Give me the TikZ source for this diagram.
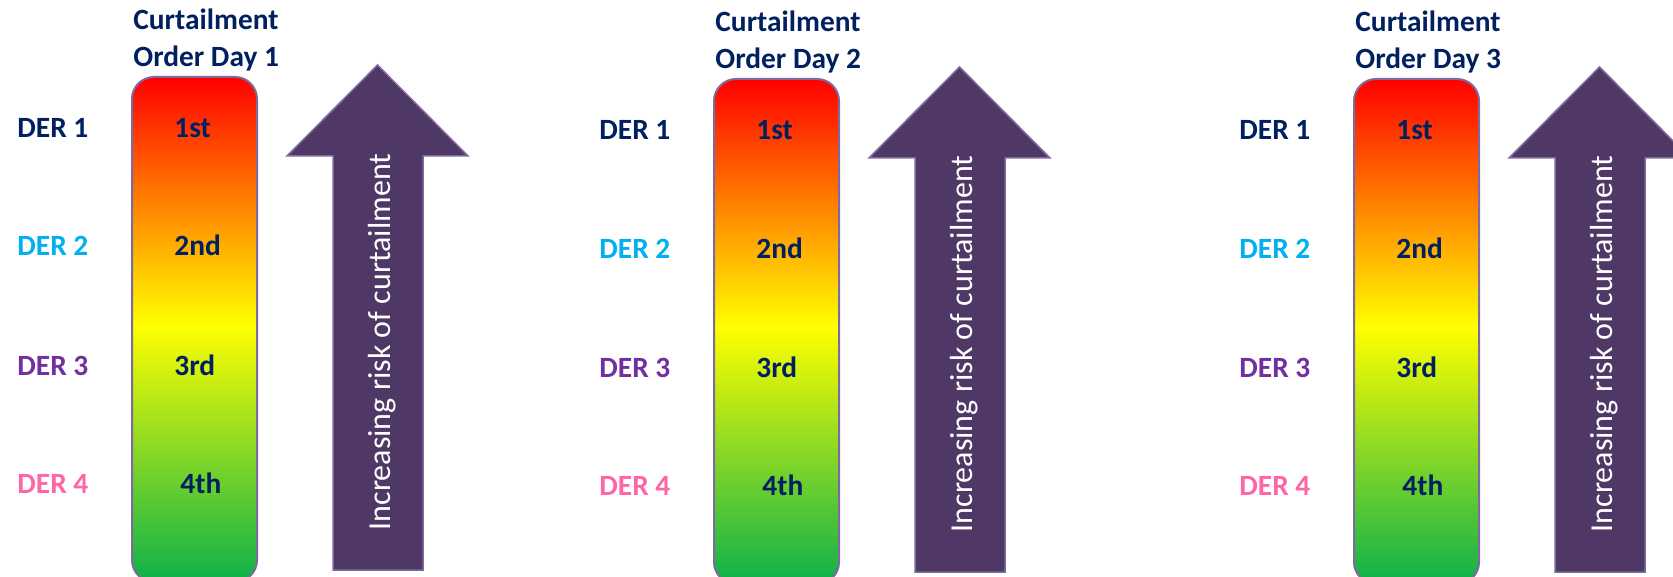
\documentclass[tikz,border=0pt]{standalone}
\usepackage{fontspec}
\setmainfont{Carlito}
\definecolor{navy}{HTML}{002060}
\definecolor{dertwo}{HTML}{00B0F0}
\definecolor{derthree}{HTML}{7030A0}
\definecolor{derfour}{HTML}{FF66A8}
\definecolor{arrowfill}{HTML}{4F3866}
\definecolor{edgepurple}{HTML}{7E6A9E}
\definecolor{barRed}{HTML}{FF0000}
\definecolor{barYellow}{HTML}{FFFF00}
\definecolor{barGreen}{HTML}{0DB04B}
\pgfdeclareverticalshading{riskbar}{100bp}{color(0bp)=(barGreen); color(25bp)=(barGreen); color(50.5bp)=(barYellow); color(75bp)=(barRed); color(100bp)=(barRed)}
\begin{document}
\begin{tikzpicture}[x=0.5pt,y=0.5pt,
  lbl/.style={font=\bfseries\fontsize{14.7}{16}\selectfont, anchor=base west, inner sep=0pt},
  riskbox/.style={shading=riskbar, draw=edgepurple, line width=1pt, rounded corners=11pt},
  riskarrow/.style={fill=arrowfill, draw=edgepurple, line width=0.75pt},
  risktext/.style={rotate=90, anchor=base, inner sep=0pt, text=white, font=\fontsize{16}{18}\selectfont}]
\useasboundingbox (0,-577) rectangle (1673,0);
\foreach \d/\dx/\dy in {1/0/0, 2/582/2, 3/1222/2} {
  \begin{scope}[shift={(\dx,-\dy)}]
    \shade[riskbox] (132,-77) rectangle (257,-582);
    \filldraw[riskarrow] (333,-570) -- (333,-156) -- (287,-156) -- (377.5,-65) -- (468,-156) -- (423,-156) -- (423,-570) -- cycle;
    \node[risktext] (risk-\d) at (390,-342) {Increasing risk of curtailment};
    \node[lbl, text=navy] (cur-\d) at (133,-30) {Curtailment};
    \node[lbl, text=navy] (ord-\d) at (133,-67) {Order Day \d};
    \node[lbl, text=navy] (der1-\d) at (17,-138) {DER 1};
    \node[lbl, text=dertwo] (der2-\d) at (17,-256) {DER 2};
    \node[lbl, text=derthree] (der3-\d) at (17,-375) {DER 3};
    \node[lbl, text=derfour] (der4-\d) at (17,-493) {DER 4};
    \node[lbl, text=navy] (o1-\d) at (174,-138) {1st};
    \node[lbl, text=navy] (o2-\d) at (174,-256) {2nd};
    \node[lbl, text=navy] (o3-\d) at (174,-375) {3rd};
    \node[lbl, text=navy] (o4-\d) at (180,-493) {4th};
  \end{scope}
}
\end{tikzpicture}
\end{document}
